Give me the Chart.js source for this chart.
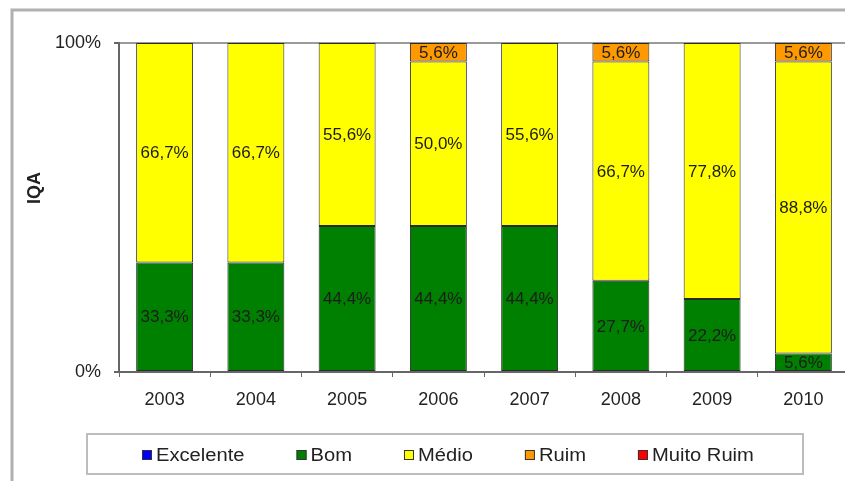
<!DOCTYPE html>
<html>
<head>
<meta charset="utf-8">
<script src="https://cdn.jsdelivr.net/npm/chart.js@4"></script>
<style>
  html, body { margin: 0; padding: 0; background: #fff; overflow: hidden; }
  #wrap { position: absolute; left: 0; top: 0; width: 850px; height: 481px; }
</style>
</head>
<body>
<div id="wrap"><canvas id="c" width="850" height="481"></canvas></div>
<script>
// IQA distribution per year (% of samples in each class)
const years = ['2003', '2004', '2005', '2006', '2007', '2008', '2009', '2010'];
const excelente = [0, 0, 0, 0, 0, 0, 0, 0];
const bom = [33.3, 33.3, 44.4, 44.4, 44.4, 27.7, 22.2, 5.6];
const medio = [66.7, 66.7, 55.6, 50.0, 55.6, 66.7, 77.8, 88.8];
const ruim = [0, 0, 0, 5.6, 0, 5.6, 0, 5.6];
const muitoRuim = [0, 0, 0, 0, 0, 0, 0, 0];
const yTicks = [0, 100];

const FONT = "'Liberation Sans', Arial, Helvetica, sans-serif";
Chart.defaults.font.family = FONT;
Chart.defaults.color = '#222';

function pct(v) { return v.toFixed(1).replace('.', ',') + '%'; }

function ds(label, data, color) {
  return {
    label, data,
    backgroundColor: color,
    borderColor: '#2a2a2a',
    borderWidth: 1,
    borderSkipped: false,
    barPercentage: 0.624,
    categoryPercentage: 1.0
  };
}

// frame, axis title, value labels and boxed legend
const decor = {
  id: 'decor',
  beforeDraw(chart) {
    const ctx = chart.ctx;
    ctx.save();
    ctx.fillStyle = '#fff';
    ctx.fillRect(0, 0, chart.width, chart.height);
    ctx.strokeStyle = '#b0b0b0';
    ctx.lineWidth = 3;
    ctx.beginPath();
    ctx.moveTo(12, chart.height);
    ctx.lineTo(12, 10);
    ctx.lineTo(chart.width, 10);
    ctx.stroke();
    ctx.restore();
  },
  afterDatasetsDraw(chart) {
    const ctx = chart.ctx;
    ctx.save();
    ctx.font = '17px ' + FONT;
    ctx.textAlign = 'center';
    ctx.textBaseline = 'middle';
    ctx.fillStyle = '#1c1c1c';
    chart.data.datasets.forEach((d, i) => {
      const meta = chart.getDatasetMeta(i);
      meta.data.forEach((bar, j) => {
        const v = d.data[j];
        if (!v) return;
        ctx.fillText(pct(v), bar.x, (bar.y + bar.base) / 2 + 1);
      });
    });
    ctx.restore();
  },
  afterDraw(chart) {
    const ctx = chart.ctx;
    ctx.save();
    // axis title
    ctx.translate(35, 188);
    ctx.rotate(-Math.PI / 2);
    ctx.font = 'bold 18px ' + FONT;
    ctx.textAlign = 'center';
    ctx.textBaseline = 'middle';
    ctx.fillStyle = '#222';
    ctx.fillText('IQA', 0, 0);
    ctx.restore();

    // legend box
    ctx.save();
    ctx.strokeStyle = '#bdbdbd';
    ctx.lineWidth = 2;
    ctx.strokeRect(87, 434, 716, 40);
    ctx.font = '18px ' + FONT;
    ctx.textBaseline = 'middle';
    ctx.textAlign = 'left';
    const sq = 10, gapText = 4, gapItem = 52, stretch = 1.12;
    let x = 142;
    const y = 455;
    chart.data.datasets.forEach(d => {
      ctx.fillStyle = d.backgroundColor;
      ctx.fillRect(x, y - sq / 2, sq, sq);
      ctx.strokeStyle = '#333';
      ctx.lineWidth = 1;
      ctx.strokeRect(x + 0.5, y - sq / 2 + 0.5, sq - 1, sq - 1);
      const tx = x + sq + gapText;
      const w = ctx.measureText(d.label).width * stretch;
      ctx.save();
      ctx.translate(tx, y + 1);
      ctx.scale(stretch, 1);
      ctx.fillStyle = '#222';
      ctx.fillText(d.label, 0, 0);
      ctx.restore();
      x = tx + w + gapItem;
    });
    ctx.restore();
  }
};

new Chart(document.getElementById('c'), {
  type: 'bar',
  data: {
    labels: years,
    datasets: [
      ds('Excelente', excelente, '#0000ff'),
      ds('Bom', bom, '#008000'),
      ds('Médio', medio, '#ffff00'),
      ds('Ruim', ruim, '#ff9900'),
      ds('Muito Ruim', muitoRuim, '#ff0000')
    ]
  },
  options: {
    responsive: false,
    animation: false,
    layout: { padding: { top: 43, left: 0, right: 1, bottom: 0 } },
    plugins: { legend: { display: false }, tooltip: { enabled: false } },
    scales: {
      x: {
        stacked: true,
        offset: true,
        afterFit(s) { s.height = 109; },
        grid: { drawOnChartArea: false, drawTicks: true, tickLength: 5, tickColor: '#666', offset: true },
        border: { display: true, color: '#666', width: 2 },
        ticks: { padding: 12, font: { size: 18 }, color: '#222' }
      },
      y: {
        stacked: true,
        min: 0, max: 100,
        afterFit(s) { s.width = 119; },
        afterBuildTicks(s) { s.ticks = yTicks.map(v => ({ value: v })); },
        grid: {
          drawOnChartArea: true,
          color: c => (c.tick && c.tick.value === 100 ? '#9a9a9a' : 'rgba(0,0,0,0)'),
          lineWidth: 2,
          tickLength: 5,
          tickColor: '#666'
        },
        border: { display: true, color: '#666', width: 2 },
        ticks: { padding: 13, font: { size: 18 }, color: '#222', callback: v => v + '%' }
      }
    }
  },
  plugins: [decor]
});
</script>
</body>
</html>
